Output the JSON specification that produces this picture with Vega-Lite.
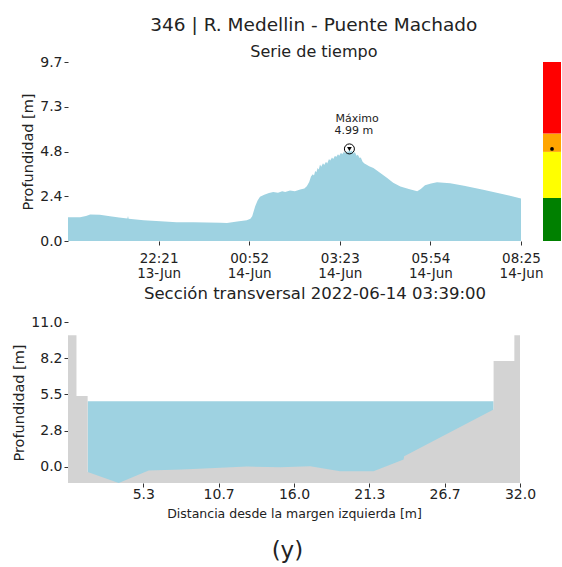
{
  "$schema": "https://vega.github.io/schema/vega-lite/v6.json",
  "padding": {"left": 11, "top": 15, "right": 1, "bottom": 4},
  "config": {
    "font": "DejaVu Sans",
    "view": {"stroke": null},
    "axis": {"domain": false, "grid": false, "tickColor": "#333333", "tickSize": 4, "labelColor": "#222222", "titleColor": "#222222", "labelFontSize": 14, "titleFontSize": 14.5, "titleFontWeight": "normal", "labelPadding": 2, "labelFlush": false},
    "title": {"fontWeight": "normal", "color": "#222222", "subtitleColor": "#222222"}
  },
  "title": {"text": "(y)", "orient": "bottom", "fontSize": 23, "anchor": "middle", "offset": 20, "dx": 1},
  "datasets": {
    "ts": [
      {"t": "2022-06-13T19:50:00Z", "v": 1.29},
      {"t": "2022-06-13T20:10:00Z", "v": 1.29},
      {"t": "2022-06-13T20:20:00Z", "v": 1.36},
      {"t": "2022-06-13T20:27:00Z", "v": 1.43},
      {"t": "2022-06-13T20:43:00Z", "v": 1.42},
      {"t": "2022-06-13T21:00:00Z", "v": 1.34},
      {"t": "2022-06-13T21:15:00Z", "v": 1.28},
      {"t": "2022-06-13T21:29:00Z", "v": 1.22},
      {"t": "2022-06-13T21:30:00Z", "v": 1.36},
      {"t": "2022-06-13T21:31:00Z", "v": 1.21},
      {"t": "2022-06-13T21:56:00Z", "v": 1.13},
      {"t": "2022-06-13T22:24:00Z", "v": 1.07},
      {"t": "2022-06-13T22:51:00Z", "v": 1.02},
      {"t": "2022-06-13T23:19:00Z", "v": 1.01},
      {"t": "2022-06-14T00:04:00Z", "v": 0.99},
      {"t": "2022-06-14T00:15:00Z", "v": 0.98},
      {"t": "2022-06-14T00:32:00Z", "v": 1.05},
      {"t": "2022-06-14T00:48:00Z", "v": 1.13},
      {"t": "2022-06-14T00:54:00Z", "v": 1.2},
      {"t": "2022-06-14T00:57:00Z", "v": 1.34},
      {"t": "2022-06-14T01:02:00Z", "v": 1.88},
      {"t": "2022-06-14T01:06:00Z", "v": 2.2},
      {"t": "2022-06-14T01:10:00Z", "v": 2.4},
      {"t": "2022-06-14T01:17:00Z", "v": 2.5},
      {"t": "2022-06-14T01:25:00Z", "v": 2.6},
      {"t": "2022-06-14T01:32:00Z", "v": 2.66},
      {"t": "2022-06-14T01:40:00Z", "v": 2.62},
      {"t": "2022-06-14T01:47:00Z", "v": 2.7},
      {"t": "2022-06-14T01:52:00Z", "v": 2.66},
      {"t": "2022-06-14T02:00:00Z", "v": 2.74},
      {"t": "2022-06-14T02:08:00Z", "v": 2.7},
      {"t": "2022-06-14T02:17:00Z", "v": 2.79},
      {"t": "2022-06-14T02:24:00Z", "v": 2.85},
      {"t": "2022-06-14T02:28:00Z", "v": 2.97},
      {"t": "2022-06-14T02:32:00Z", "v": 3.2},
      {"t": "2022-06-14T02:35:00Z", "v": 3.5},
      {"t": "2022-06-14T02:38:00Z", "v": 3.62},
      {"t": "2022-06-14T02:40:00Z", "v": 3.55},
      {"t": "2022-06-14T02:42:00Z", "v": 3.8},
      {"t": "2022-06-14T02:44:00Z", "v": 3.72},
      {"t": "2022-06-14T02:46:00Z", "v": 3.95},
      {"t": "2022-06-14T02:48:00Z", "v": 3.88},
      {"t": "2022-06-14T02:50:00Z", "v": 4.14},
      {"t": "2022-06-14T02:52:00Z", "v": 4.02},
      {"t": "2022-06-14T02:55:00Z", "v": 4.22},
      {"t": "2022-06-14T02:57:00Z", "v": 4.12},
      {"t": "2022-06-14T03:00:00Z", "v": 4.3},
      {"t": "2022-06-14T03:02:00Z", "v": 4.2},
      {"t": "2022-06-14T03:05:00Z", "v": 4.45},
      {"t": "2022-06-14T03:07:00Z", "v": 4.36},
      {"t": "2022-06-14T03:10:00Z", "v": 4.52},
      {"t": "2022-06-14T03:12:00Z", "v": 4.44},
      {"t": "2022-06-14T03:15:00Z", "v": 4.62},
      {"t": "2022-06-14T03:17:00Z", "v": 4.55},
      {"t": "2022-06-14T03:20:00Z", "v": 4.7},
      {"t": "2022-06-14T03:22:00Z", "v": 4.62},
      {"t": "2022-06-14T03:25:00Z", "v": 4.78},
      {"t": "2022-06-14T03:27:00Z", "v": 4.7},
      {"t": "2022-06-14T03:30:00Z", "v": 4.83},
      {"t": "2022-06-14T03:32:00Z", "v": 4.76},
      {"t": "2022-06-14T03:35:00Z", "v": 4.88},
      {"t": "2022-06-14T03:37:00Z", "v": 4.8},
      {"t": "2022-06-14T03:39:00Z", "v": 4.99},
      {"t": "2022-06-14T03:41:00Z", "v": 4.82},
      {"t": "2022-06-14T03:43:00Z", "v": 4.9},
      {"t": "2022-06-14T03:46:00Z", "v": 4.74},
      {"t": "2022-06-14T03:48:00Z", "v": 4.82},
      {"t": "2022-06-14T03:51:00Z", "v": 4.62},
      {"t": "2022-06-14T03:53:00Z", "v": 4.68},
      {"t": "2022-06-14T03:56:00Z", "v": 4.5},
      {"t": "2022-06-14T03:58:00Z", "v": 4.52},
      {"t": "2022-06-14T04:01:00Z", "v": 4.3},
      {"t": "2022-06-14T04:04:00Z", "v": 4.2},
      {"t": "2022-06-14T04:07:00Z", "v": 4.15},
      {"t": "2022-06-14T04:12:00Z", "v": 4.05},
      {"t": "2022-06-14T04:19:00Z", "v": 3.96},
      {"t": "2022-06-14T04:30:00Z", "v": 3.7},
      {"t": "2022-06-14T04:42:00Z", "v": 3.42},
      {"t": "2022-06-14T04:52:00Z", "v": 3.15},
      {"t": "2022-06-14T05:04:00Z", "v": 2.95},
      {"t": "2022-06-14T05:18:00Z", "v": 2.82},
      {"t": "2022-06-14T05:32:00Z", "v": 2.7},
      {"t": "2022-06-14T05:38:00Z", "v": 2.82},
      {"t": "2022-06-14T05:45:00Z", "v": 3.02},
      {"t": "2022-06-14T05:55:00Z", "v": 3.12},
      {"t": "2022-06-14T06:05:00Z", "v": 3.18},
      {"t": "2022-06-14T06:27:00Z", "v": 3.13},
      {"t": "2022-06-14T06:50:00Z", "v": 3.0},
      {"t": "2022-06-14T07:22:00Z", "v": 2.78},
      {"t": "2022-06-14T07:50:00Z", "v": 2.58},
      {"t": "2022-06-14T08:25:00Z", "v": 2.3}
    ],
    "peak": [{"t": "2022-06-14T03:39:00Z", "v": 4.99, "l1": "Máximo", "l2": "4.99 m"}],
    "bands": [
      {"nivel": "verde", "lo": 0, "hi": 2.33},
      {"nivel": "amarillo", "lo": 2.33, "hi": 4.83},
      {"nivel": "naranja", "lo": 4.83, "hi": 5.82},
      {"nivel": "rojo", "lo": 5.82, "hi": 9.7}
    ],
    "water": [{"d": 1.39, "h": 4.99}, {"d": 30.13, "h": 4.99}],
    "ground": [
      {"d": 0, "h": 10.0},
      {"d": 0.6, "h": 10.0},
      {"d": 0.601, "h": 5.38},
      {"d": 1.39, "h": 5.38},
      {"d": 1.391, "h": -0.38},
      {"d": 3.59, "h": -1.22},
      {"d": 5.71, "h": -0.27},
      {"d": 8.07, "h": -0.2},
      {"d": 10.79, "h": -0.07},
      {"d": 12.67, "h": 0.03},
      {"d": 15.03, "h": -0.02},
      {"d": 17.15, "h": 0.05},
      {"d": 19.27, "h": -0.33},
      {"d": 21.63, "h": -0.33},
      {"d": 23.76, "h": 0.56},
      {"d": 23.8, "h": 0.81},
      {"d": 30.13, "h": 4.36},
      {"d": 30.131, "h": 8.04},
      {"d": 31.6, "h": 8.04},
      {"d": 31.601, "h": 10.0},
      {"d": 32.0, "h": 10.0}
    ]
  },
  "spacing": 5,
  "vconcat": [
    {
      "title": {"text": "346 | R. Medellin - Puente Machado", "subtitle": "Serie de tiempo", "fontSize": 18.5, "subtitleFontSize": 16, "subtitlePadding": 10, "anchor": "middle", "offset": -5, "dx": 23},
      "spacing": 22,
      "bounds": "flush",
      "hconcat": [
        {
          "width": 453,
          "height": 179,
          "layer": [
            {
              "data": {"name": "ts"},
              "mark": {"type": "area", "color": "#9ED2E1"},
              "encoding": {
                "x": {
                  "field": "t", "type": "temporal",
                  "scale": {"type": "utc", "domain": [
                    {"year": 2022, "month": 6, "date": 13, "hours": 19, "minutes": 50, "utc": true},
                    {"year": 2022, "month": 6, "date": 14, "hours": 8, "minutes": 25, "utc": true}
                  ]},
                  "axis": {
                    "title": null,
                    "values": [
                      {"year": 2022, "month": 6, "date": 13, "hours": 22, "minutes": 21, "utc": true},
                      {"year": 2022, "month": 6, "date": 14, "hours": 0, "minutes": 52, "utc": true},
                      {"year": 2022, "month": 6, "date": 14, "hours": 3, "minutes": 23, "utc": true},
                      {"year": 2022, "month": 6, "date": 14, "hours": 5, "minutes": 54, "utc": true},
                      {"year": 2022, "month": 6, "date": 14, "hours": 8, "minutes": 25, "utc": true}
                    ],
                    "labelExpr": "[utcFormat(datum.value, '%H:%M'), utcFormat(datum.value, '%d-%b')]",
                    "labelLineHeight": 15,
                    "labelFontSize": 13.5,
                    "labelPadding": 6
                  }
                },
                "y": {
                  "field": "v", "type": "quantitative", "stack": null,
                  "scale": {"domain": [0, 9.7], "nice": false, "zero": true},
                  "axis": {"title": "Profundidad [m]", "values": [0, 2.425, 4.85, 7.275, 9.7], "format": ".1f"}
                }
              }
            },
            {
              "data": {"name": "peak"},
              "mark": {"type": "point", "shape": "circle", "filled": false, "stroke": "black", "strokeWidth": 1, "size": 100, "opacity": 1},
              "encoding": {"x": {"field": "t", "type": "temporal"}, "y": {"field": "v", "type": "quantitative"}}
            },
            {
              "data": {"name": "peak"},
              "mark": {"type": "point", "shape": "triangle-down", "filled": true, "color": "black", "size": 22, "opacity": 1},
              "encoding": {"x": {"field": "t", "type": "temporal"}, "y": {"field": "v", "type": "quantitative"}}
            },
            {
              "data": {"name": "peak"},
              "mark": {"type": "text", "align": "left", "baseline": "middle", "dx": -14, "dy": -30, "fontSize": 11, "color": "#222222"},
              "encoding": {"x": {"field": "t", "type": "temporal"}, "y": {"field": "v", "type": "quantitative"}, "text": {"field": "l1"}}
            },
            {
              "data": {"name": "peak"},
              "mark": {"type": "text", "align": "left", "baseline": "middle", "dx": -15, "dy": -17.5, "fontSize": 11, "color": "#222222"},
              "encoding": {"x": {"field": "t", "type": "temporal"}, "y": {"field": "v", "type": "quantitative"}, "text": {"field": "l2"}}
            }
          ]
        },
        {
          "width": 18,
          "height": 179,
          "layer": [
            {
              "data": {"name": "bands"},
              "mark": {"type": "rect"},
              "encoding": {
                "x": {"datum": 0, "type": "quantitative", "scale": {"domain": [0, 1], "nice": false}, "axis": null},
                "x2": {"datum": 1},
                "y": {"field": "lo", "type": "quantitative", "scale": {"domain": [0, 9.7], "nice": false}, "axis": null},
                "y2": {"field": "hi"},
                "color": {"field": "nivel", "type": "nominal", "scale": {"domain": ["verde", "amarillo", "naranja", "rojo"], "range": ["#008000", "#FFFF00", "#FFA500", "#FF0000"]}, "legend": null}
              }
            },
            {
              "data": {"name": "peak"},
              "mark": {"type": "point", "shape": "circle", "filled": true, "color": "black", "size": 14, "opacity": 1},
              "encoding": {
                "x": {"datum": 0.5, "type": "quantitative"},
                "y": {"field": "v", "type": "quantitative"}
              }
            }
          ]
        }
      ]
    },
    {
      "title": {"text": "Sección transversal 2022-06-14 03:39:00", "fontSize": 16.5, "dx": 21, "anchor": "middle", "offset": 13},
      "width": 452,
      "height": 161,
      "layer": [
        {
          "data": {"name": "water"},
          "mark": {"type": "area", "color": "#9ED2E1"},
          "encoding": {
            "x": {
              "field": "d", "type": "quantitative",
              "scale": {"domain": [0, 32], "nice": false, "zero": false},
              "axis": {"title": "Distancia desde la margen izquierda [m]", "titleFontSize": 12.5, "titlePadding": 6, "labelPadding": 0, "values": [5.3333, 10.6667, 16, 21.3333, 26.6667, 32], "format": ".1f"}
            },
            "y": {
              "field": "h", "type": "quantitative", "stack": null,
              "scale": {"domain": [-1.22, 11], "nice": false, "zero": false},
              "axis": {"title": "Profundidad [m]", "values": [0, 2.75, 5.5, 8.25, 11], "labelExpr": "datum.value == 8.25 ? '8.2' : format(datum.value, '.1f')"}
            },
            "y2": {"datum": -1.22}
          }
        },
        {
          "data": {"name": "ground"},
          "mark": {"type": "area", "color": "#D3D3D3"},
          "encoding": {
            "x": {"field": "d", "type": "quantitative"},
            "y": {"field": "h", "type": "quantitative", "stack": null},
            "y2": {"datum": -1.22}
          }
        }
      ]
    }
  ]
}
